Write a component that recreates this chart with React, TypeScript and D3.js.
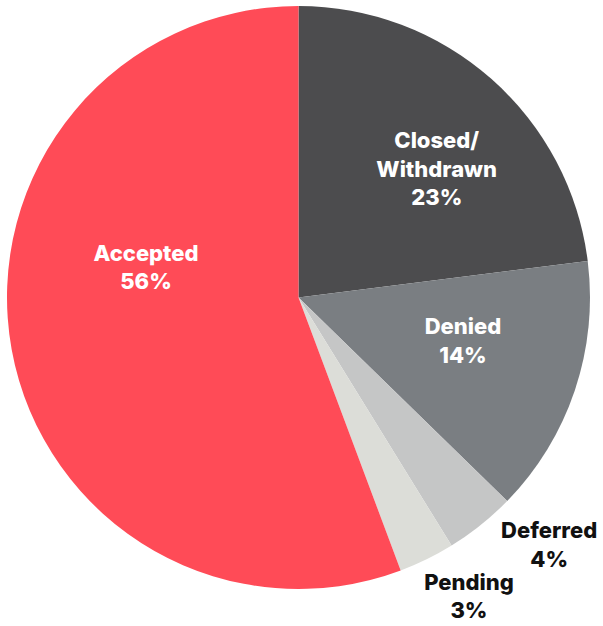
import React from "react";
import * as d3 from "d3";

const categories = ["Closed/Withdrawn", "Denied", "Deferred", "Pending", "Accepted"];
const values = [23.0, 14.3, 3.9, 3.1, 55.7];
const percentLabels = ["23%", "14%", "4%", "3%", "56%"];
const labelLines = [["Closed/", "Withdrawn"], ["Denied"], ["Deferred"], ["Pending"], ["Accepted"]];

const colors = ["#4c4c4e", "#7a7e82", "#c5c6c6", "#dcddd8", "#ff4b57"];
const textColors = ["#ffffff", "#ffffff", "#111111", "#111111", "#ffffff"];
// label placement: polar (degrees clockwise from top, radius in px)
const labelPolar = [
  [47.0, 189],
  [104.7, 170],
  [134.6, 352],
  [150.3, 344],
  [281.3, 155.5],
];

const W = 603;
const H = 626;
const cx = 298.5;
const cy = 297.5;
const R = 291.5;
const fontSize = 22;
const lineH = 28.5;

export default function App() {
  const pie = d3.pie<number>().sort(null).value((d) => d).startAngle(0).endAngle(2 * Math.PI);
  const arcs = pie(values);
  const arc = d3.arc<d3.PieArcDatum<number>>().innerRadius(0).outerRadius(R);

  return (
    <svg width={W} height={H} style={{ position: "absolute", left: 0, top: 0 }}>
      <g transform={`translate(${cx},${cy})`}>
        {arcs.map((a, i) => (
          <path key={categories[i]} d={arc(a) || ""} fill={colors[i]} />
        ))}
        {arcs.map((a, i) => {
          const [deg, r] = labelPolar[i];
          const ang = (deg * Math.PI) / 180;
          const x = Math.sin(ang) * r;
          const y = -Math.cos(ang) * r;
          const lines = [...labelLines[i], percentLabels[i]];
          const n = lines.length;
          const first = y - ((n - 1) * lineH) / 2 + fontSize * 0.36;
          return (
            <text
              key={"t" + categories[i]}
              x={x}
              textAnchor="middle"
              fontFamily="Inter, 'Noto Sans', sans-serif"
              fontWeight={800}
              fontSize={fontSize}
              fill={textColors[i]}
            >
              {lines.map((l, j) => (
                <tspan key={j} x={x} y={first + j * lineH}>
                  {l}
                </tspan>
              ))}
            </text>
          );
        })}
      </g>
    </svg>
  );
}
